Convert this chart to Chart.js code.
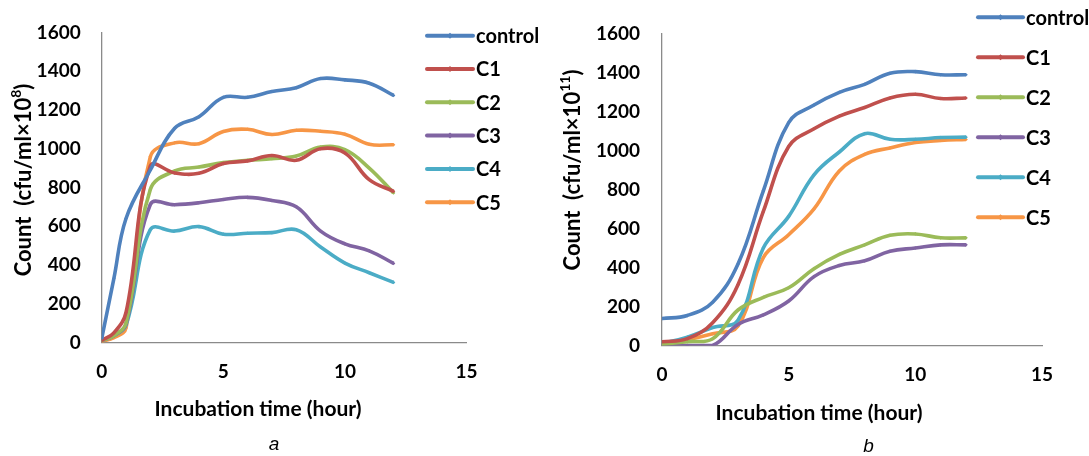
<!DOCTYPE html>
<html><head><meta charset="utf-8">
<script src="https://cdn.jsdelivr.net/npm/chart.js@4.4.1/dist/chart.umd.min.js"></script>
<style>
html,body{margin:0;padding:0;background:#fff;width:1089px;height:456px;overflow:hidden}
.wrap{position:absolute;top:0;height:456px}
#wa{left:0;width:545px}
#wb{left:545px;width:544px}
</style></head><body>
<div class="wrap" id="wa"><canvas id="ca"></canvas></div>
<div class="wrap" id="wb"><canvas id="cb"></canvas></div>
<script>
// ---- data ----
const seriesNames = ['control', 'C1', 'C2', 'C3', 'C4', 'C5'];
const seriesColors = ['#4F81BD', '#C0504D', '#9BBB59', '#8064A2', '#4BACC6', '#F79646'];
const xTicks = [0, 5, 10, 15];
const yTicks = [0, 200, 400, 600, 800, 1000, 1200, 1400, 1600];

// panel a (cfu/ml x 10^8)
const hoursA = [0, 0.5, 1, 2, 3, 4, 5, 6, 7, 8, 9, 10, 11, 12];
const controlA = [20, 330, 640, 890, 1105, 1165, 1265, 1265, 1295, 1315, 1362, 1355, 1338, 1275];
const c1A = [10, 50, 155, 910, 875, 873, 923, 937, 965, 940, 1000, 978, 840, 780];
const c2A = [10, 35, 100, 790, 885, 905, 928, 940, 948, 962, 1008, 995, 900, 772];
const c3A = [10, 35, 95, 712, 711, 721, 738, 749, 733, 700, 575, 509, 473, 408];
const c4A = [10, 35, 90, 582, 575, 598, 559, 564, 567, 582, 493, 410, 360, 310];
const c5A = [5, 25, 75, 958, 1030, 1026, 1089, 1100, 1073, 1095, 1090, 1075, 1023, 1020];

// panel b (cfu/ml x 10^11)
const hoursB = [0, 1, 2, 3, 4, 5, 6, 7, 8, 9, 10, 11, 12];
const controlB = [138, 154, 222, 418, 793, 1143, 1233, 1298, 1339, 1396, 1404, 1388, 1388];
const c1B = [19, 35, 117, 312, 687, 1020, 1111, 1176, 1220, 1269, 1288, 1266, 1269];
const c2B = [5, 20, 35, 182, 247, 296, 394, 467, 516, 565, 572, 552, 552];
const c3B = [0, 0, 0, 108, 157, 228, 353, 410, 434, 483, 500, 516, 516];
const c4B = [10, 43, 92, 130, 500, 662, 875, 992, 1086, 1057, 1057, 1066, 1068];
const c5B = [10, 30, 60, 100, 451, 568, 700, 895, 980, 1013, 1041, 1051, 1056];

const FONT = '"Lato", "Carlito", "Liberation Sans", sans-serif';

function fontStr(size, sup) {
  return 'bold ' + (sup ? Math.round(size * 0.65) : size) + 'px ' + FONT;
}
function richWidth(ctx, parts, size) {
  let w = 0;
  for (const p of parts) { ctx.font = fontStr(size, p.sup); w += ctx.measureText(p.t).width; }
  return w;
}
function drawRich(ctx, parts, size) {
  const w = richWidth(ctx, parts, size);
  let x = -w / 2;
  ctx.textBaseline = 'middle';
  ctx.textAlign = 'left';
  for (const p of parts) {
    ctx.font = fontStr(size, p.sup);
    ctx.fillText(p.t, x, p.sup ? -size * 0.35 : 0);
    x += ctx.measureText(p.t).width;
  }
}

const decorPlugin = {
  id: 'decor',
  afterDraw(chart, args, opts) {
    const ctx = chart.ctx;
    ctx.save();
    ctx.fillStyle = '#000';
    ctx.save();
    ctx.translate(opts.xTitle.x, opts.xTitle.y);
    drawRich(ctx, [{t: 'Incubation time (hour)'}], 21);
    ctx.restore();
    ctx.save();
    ctx.translate(opts.yTitle.x, opts.yTitle.y);
    ctx.rotate(-Math.PI / 2);
    drawRich(ctx, [{t: 'Count  (cfu/ml\u00d710'}, {t: opts.yTitle.exp, sup: true}, {t: ')'}], 22);
    ctx.restore();
    ctx.font = 'italic 19px "Liberation Sans", Arial, sans-serif';
    ctx.textAlign = 'center';
    ctx.textBaseline = 'middle';
    ctx.fillText(opts.caption.t, opts.caption.x, opts.caption.y);
    const L = opts.legend;
    chart.data.datasets.forEach((ds, i) => {
      const y = L.y0 + i * L.dy;
      ctx.strokeStyle = ds.borderColor;
      ctx.lineWidth = 4;
      ctx.lineCap = 'round';
      ctx.beginPath();
      ctx.moveTo(L.x1, y);
      ctx.lineTo(L.x2, y);
      ctx.stroke();
      ctx.fillStyle = ds.borderColor;
      const mx = (L.x1 + L.x2) / 2;
      ctx.beginPath();
      ctx.moveTo(mx, y - 3); ctx.lineTo(mx + 3, y); ctx.lineTo(mx, y + 3); ctx.lineTo(mx - 3, y);
      ctx.closePath(); ctx.fill();
      ctx.fillStyle = '#000';
      ctx.font = 'bold 20px ' + FONT;
      ctx.textAlign = 'left';
      ctx.textBaseline = 'middle';
      ctx.fillText(ds.label, L.x2 + 3, y + 1);
    });
    ctx.restore();
  }
};

function makeChart(id, hours, seriesList, cfg) {
  const datasets = seriesList.map((vals, i) => ({
    label: seriesNames[i],
    data: hours.map((h, j) => ({x: h, y: vals[j]})),
    borderColor: seriesColors[i],
    backgroundColor: seriesColors[i],
    borderWidth: 3.6,
    pointRadius: 1.8,
    pointStyle: 'rectRot',
    pointBorderWidth: 0,
    tension: 0.4,
    fill: false
  }));
  const tickFont = {family: FONT, size: 19, weight: 'bold'};
  return new Chart(document.getElementById(id), {
    type: 'line',
    data: {datasets},
    plugins: [decorPlugin],
    options: {
      responsive: true,
      maintainAspectRatio: false,
      animation: false,
      layout: {padding: cfg.padding},
      plugins: {
        legend: {display: false},
        tooltip: {enabled: false},
        decor: cfg.decor
      },
      scales: {
        x: {
          type: 'linear', min: 0, max: 15,
          afterBuildTicks: s => { s.ticks = xTicks.map(v => ({value: v})); },
          ticks: {font: tickFont, color: '#000', padding: cfg.xPad, maxRotation: 0, callback: v => String(v)},
          grid: {display: false, drawTicks: false},
          border: {display: true, color: '#8a8a8a', width: 1.3},
          afterFit: s => { s.height = cfg.xH; }
        },
        y: {
          type: 'linear', min: 0, max: 1600,
          afterBuildTicks: s => { s.ticks = yTicks.map(v => ({value: v})); },
          ticks: {font: tickFont, color: '#000', padding: cfg.yPad, callback: v => String(v)},
          grid: {display: false, drawTicks: false},
          border: {display: true, color: '#8a8a8a', width: 1.3},
          afterFit: s => { s.width = cfg.yW; }
        }
      }
    }
  });
}

makeChart('ca', hoursA, [controlA, c1A, c2A, c3A, c4A, c5A], {
  padding: {left: 0, top: 20.5, right: 78.5, bottom: 53.5},
  xH: 60, yW: 101.7, xPad: 18, yPad: 21,
  decor: {
    xTitle: {x: 258, y: 409},
    yTitle: {x: 24, y: 180, exp: '8'},
    caption: {t: 'a', x: 274, y: 445},
    legend: {x1: 427, x2: 473, y0: 35.7, dy: 33.3}
  }
});
makeChart('cb', hoursB, [controlB, c1B, c2B, c3B, c4B, c5B], {
  padding: {left: 0, top: 18.3, right: 47, bottom: 50.5},
  xH: 60, yW: 117, xPad: 18, yPad: 22,
  decor: {
    xTitle: {x: 274, y: 413},
    yTitle: {x: 28, y: 170, exp: '11'},
    caption: {t: 'b', x: 323.5, y: 447},
    legend: {x1: 433, x2: 478, y0: 17.3, dy: 40}
  }
});
</script>
</body></html>
